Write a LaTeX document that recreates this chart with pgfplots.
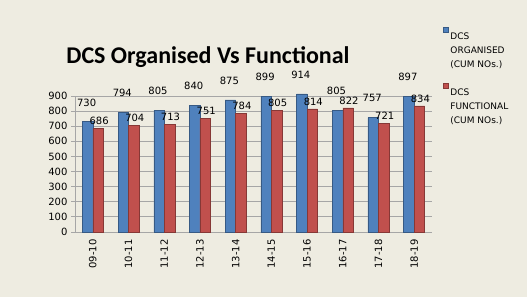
\documentclass[border=0pt]{standalone}
\usepackage{pgfplots}
\pgfplotsset{compat=1.18}
\usepackage{fontspec}
\setmainfont{DejaVu Sans}
\newfontfamily\titlefont{Carlito}
\definecolor{bg}{HTML}{EEECE1}
\definecolor{cblue}{HTML}{4F81BD}
\definecolor{cred}{HTML}{C0504D}
\definecolor{gridc}{HTML}{A6A6A6}
\begin{document}
\begin{tikzpicture}[x=1pt,y=1pt]
\fill[bg] (0,0) rectangle (527,297);
\node[font=\titlefont\fontsize{24}{27}\selectfont\bfseries] at (208,240) {DCS Organised Vs Functional};
\begin{axis}[
  at={(75pt,65pt)}, anchor=south west,
  scale only axis, width=357pt, height=136pt,
  xmin=-0.5, xmax=9.5, ymin=0, ymax=900,
  ybar=0pt, bar width=10.5pt,
  xtick=data,
  xticklabels={09-10,10-11,11-12,12-13,13-14,14-15,15-16,16-17,17-18,18-19},
  xticklabel style={rotate=90, anchor=east, font=\fontsize{10}{12}\selectfont},
  ytick={0,100,...,900},
  yticklabel style={font=\fontsize{10}{12}\selectfont},
  /pgf/number format/assume math mode=true,
  ymajorgrids, grid style={gridc, line width=0.9pt},
  axis line style={gridc, line width=0.9pt},
  axis x line*=bottom, axis y line*=left,
  major tick length=4pt,
  xtick style={draw=none},
  ytick style={gridc, line width=0.9pt},
  tick align=outside,
  clip=false,
  nodes near coords,
  every node near coord/.append style={font=\fontsize{10}{12}\selectfont, black},
  legend style={at={(1.022,1.52)}, anchor=north west, draw=none, fill=none,
    font=\fontsize{9}{14}\selectfont, row sep=12pt,
    cells={align=left, anchor=north west}},
  legend image code/.code={\fill[#1] (0pt,-2pt) rectangle (5pt,3pt);},
]
\addplot[fill=cblue, draw=cblue!70!black, every node near coord/.append style={yshift=12pt, xshift=-1pt}]
  coordinates {(0,730) (1,794) (2,805) (3,840) (4,875) (5,899) (6,914) (7,805) (8,757) (9,897)};
\addplot[fill=cred, draw=cred!70!black, every node near coord/.append style={xshift=1pt}]
  coordinates {(0,686) (1,704) (2,713) (3,751) (4,784) (5,805) (6,814) (7,822) (8,721) (9,834)};
\legend{DCS\\ORGANISED\\(CUM NOs.), DCS\\FUNCTIONAL\\(CUM NOs.)}
\end{axis}
\end{tikzpicture}
\end{document}
